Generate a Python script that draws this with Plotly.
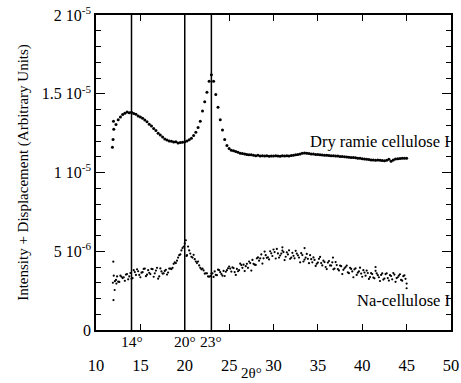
import plotly.graph_objects as go

# ---- data (intensity values in units of 1e-6) ----
dry_x = [11.85, 11.92, 11.97,
         12.0, 12.25, 12.5, 12.75, 13.0, 13.25, 13.5, 13.75, 14.0, 14.25, 14.5, 14.75,
         15.0, 15.25, 15.5, 15.75, 16.0, 16.25, 16.5, 16.75, 17.0, 17.25, 17.5, 17.75,
         18.0, 18.25, 18.5, 18.75, 19.0, 19.25, 19.5, 19.75, 20.0, 20.25, 20.5, 20.75,
         21.0, 21.25, 21.5, 21.75, 22.0, 22.25, 22.5, 22.75, 23.0, 23.25, 23.5, 23.75,
         24.0, 24.25, 24.5, 24.75, 25.0, 25.25, 25.5, 25.75, 26.0, 26.25, 26.5, 26.75,
         27.0, 27.25, 27.5, 27.75, 28.0, 28.25, 28.5, 28.75, 29.0, 29.25, 29.5, 29.75,
         30.0, 30.25, 30.5, 30.75, 31.0, 31.25, 31.5, 31.75, 32.0, 32.25, 32.5, 32.75,
         33.0, 33.25, 33.5, 33.75, 34.0, 34.25, 34.5, 34.75, 35.0, 35.25, 35.5, 35.75,
         36.0, 36.25, 36.5, 36.75, 37.0, 37.25, 37.5, 37.75, 38.0, 38.25, 38.5, 38.75,
         39.0, 39.25, 39.5, 39.75, 40.0, 40.25, 40.5, 40.75, 41.0, 41.25, 41.5, 41.75,
         42.0, 42.25, 42.5, 42.75, 43.0, 43.25, 43.5, 43.75, 44.0, 44.25, 44.5, 44.75, 45.0]
dry_y = [11.60, 12.10, 13.25,
         12.75, 13.05, 13.35, 13.52, 13.68, 13.76, 13.84, 13.80, 13.82, 13.74, 13.70, 13.58,
         13.52, 13.45, 13.33, 13.22, 13.06, 12.95, 12.80, 12.66, 12.50, 12.38, 12.25, 12.12,
         12.07, 12.00, 11.98, 11.93, 11.95, 11.88, 11.90, 11.92, 11.95, 12.00, 12.08, 12.18,
         12.35, 12.55, 12.85, 13.25, 13.90, 14.50, 15.10, 15.80, 16.20, 15.80, 14.95, 14.15,
         13.35, 12.70, 12.10, 11.72, 11.52, 11.42, 11.38, 11.33, 11.28, 11.22, 11.20, 11.17,
         11.15, 11.13, 11.12, 11.10, 11.07, 11.09, 11.05, 11.07, 11.04, 11.06, 11.03, 11.05,
         11.04, 11.06, 11.05, 11.03, 11.06, 11.04, 11.07, 11.05, 11.08, 11.10, 11.12, 11.15,
         11.18, 11.22, 11.24, 11.22, 11.20, 11.18, 11.17, 11.15, 11.14, 11.12, 11.11, 11.10,
         11.09, 11.08, 11.07, 11.06, 11.05, 11.04, 11.02, 11.01, 11.00, 10.98, 10.97, 10.96,
         10.95, 10.93, 10.91, 10.90, 10.88, 10.86, 10.84, 10.83, 10.80, 10.79, 10.78, 10.80,
         10.77, 10.76, 10.75, 10.78, 10.84, 10.72, 10.80, 10.86, 10.88, 10.89, 10.90, 10.91, 10.90]

na_x = [11.9, 11.95, 11.97, 12.1, 12.3, 20.2, 31.0, 33.5, 36.7, 41.5, 45.0,
        12.0, 12.25, 12.5, 12.75, 13.0, 13.25, 13.5, 13.75, 14.0, 14.25, 14.5, 14.75,
        15.0, 15.25, 15.5, 15.75, 16.0, 16.25, 16.5, 16.75, 17.0, 17.25, 17.5, 17.75,
        18.0, 18.25, 18.5, 18.75, 19.0, 19.25, 19.5, 19.75, 20.0, 20.25, 20.5, 20.75,
        21.0, 21.25, 21.5, 21.75, 22.0, 22.25, 22.5, 22.75, 23.0, 23.25, 23.5, 23.75,
        24.0, 24.25, 24.5, 24.75, 25.0, 25.25, 25.5, 25.75, 26.0, 26.25, 26.5, 26.75,
        27.0, 27.25, 27.5, 27.75, 28.0, 28.25, 28.5, 28.75, 29.0, 29.25, 29.5, 29.75,
        30.0, 30.25, 30.5, 30.75, 31.0, 31.25, 31.5, 31.75, 32.0, 32.25, 32.5, 32.75,
        33.0, 33.25, 33.5, 33.75, 34.0, 34.25, 34.5, 34.75, 35.0, 35.25, 35.5, 35.75,
        36.0, 36.25, 36.5, 36.75, 37.0, 37.25, 37.5, 37.75, 38.0, 38.25, 38.5, 38.75,
        39.0, 39.25, 39.5, 39.75, 40.0, 40.25, 40.5, 40.75, 41.0, 41.25, 41.5, 41.75,
        42.0, 42.25, 42.5, 42.75, 43.0, 43.25, 43.5, 43.75, 44.0, 44.25, 44.5, 44.75, 45.0,
        12.125, 12.375, 12.625, 12.875, 13.125, 13.375, 13.625, 13.875, 14.125, 14.375,
        14.625, 14.875, 15.125, 15.375, 15.625, 15.875, 16.125, 16.375, 16.625, 16.875,
        17.125, 17.375, 17.625, 17.875, 18.125, 18.375, 18.625, 18.875, 19.125, 19.375,
        19.625, 19.875, 20.125, 20.375, 20.625, 20.875, 21.125, 21.375, 21.625, 21.875,
        22.125, 22.375, 22.625, 22.875, 23.125, 23.375, 23.625, 23.875, 24.125, 24.375,
        24.625, 24.875, 25.125, 25.375, 25.625, 25.875, 26.125, 26.375, 26.625, 26.875,
        27.125, 27.375, 27.625, 27.875, 28.125, 28.375, 28.625, 28.875, 29.125, 29.375,
        29.625, 29.875, 30.125, 30.375, 30.625, 30.875, 31.125, 31.375, 31.625, 31.875,
        32.125, 32.375, 32.625, 32.875, 33.125, 33.375, 33.625, 33.875, 34.125, 34.375,
        34.625, 34.875, 35.125, 35.375, 35.625, 35.875, 36.125, 36.375, 36.625, 36.875,
        37.125, 37.375, 37.625, 37.875, 38.125, 38.375, 38.625, 38.875, 39.125, 39.375,
        39.625, 39.875, 40.125, 40.375, 40.625, 40.875, 41.125, 41.375, 41.625, 41.875,
        42.125, 42.375, 42.625, 42.875, 43.125, 43.375, 43.625, 43.875, 44.125, 44.375,
        44.625, 44.875]
na_y = [3.00, 4.34, 1.90, 2.54, 2.95, 4.70, 5.25, 5.20, 4.60, 4.00, 2.65,
        3.45, 3.18, 3.07, 3.45, 3.30, 3.12, 3.55, 3.40, 3.25, 3.80, 3.50, 3.73,
        3.35, 3.67, 3.90, 3.51, 3.63, 3.88, 3.38, 3.77, 3.26, 3.91, 3.58, 3.75,
        3.52, 3.90, 3.87, 4.20, 4.25, 4.60, 4.80, 5.20, 5.50, 4.75, 5.05, 4.65,
        4.77, 4.35, 4.35, 3.95, 3.90, 3.58, 3.60, 3.38, 3.58, 3.37, 3.50, 3.83,
        3.67, 3.45, 3.43, 3.80, 4.03, 3.71, 3.93, 3.50, 3.73, 4.21, 3.95, 3.74,
        4.20, 4.35, 3.77, 4.20, 4.13, 4.61, 4.55, 4.22, 4.98, 4.58, 4.48, 4.87,
        5.11, 4.54, 4.86, 4.73, 5.04, 4.44, 4.93, 5.06, 4.59, 4.71, 5.03, 4.74,
        4.30, 4.76, 4.47, 4.83, 4.24, 4.50, 4.61, 4.07, 4.28, 4.64, 4.10, 4.31,
        3.87, 4.38, 4.09, 3.85, 4.31, 3.87, 4.09, 3.55, 3.92, 4.09, 3.61, 3.88,
        3.35, 3.92, 3.64, 3.96, 3.38, 3.65, 3.77, 3.24, 3.61, 3.33, 3.76, 3.48,
        3.11, 3.59, 3.27, 3.60, 3.14, 3.43, 3.62, 3.06, 3.35, 3.54, 3.13, 3.47, 2.95,
        3.10, 3.40, 3.05, 3.38, 3.35, 3.52, 3.22, 3.62, 3.30, 3.68,
        3.85, 3.50, 3.64, 3.88, 3.42, 3.80, 3.55, 3.86, 3.60, 3.95,
        3.40, 3.72, 3.60, 3.82, 3.65, 3.90, 3.95, 4.30, 4.40, 4.75,
        5.05, 5.30, 5.70, 5.30, 4.85, 4.60, 4.50, 4.25, 4.10, 3.85,
        3.78, 3.60, 3.40, 3.42, 3.60, 3.72, 3.48, 3.80, 3.55, 3.75,
        3.70, 3.92, 3.90, 3.98, 3.68, 3.88, 3.80, 4.12, 4.15, 4.05,
        3.95, 4.25, 4.45, 4.15, 4.55, 4.40, 4.80, 4.55, 4.75, 4.62,
        5.00, 4.70, 4.95, 5.15, 4.60, 4.85, 4.95, 4.65, 4.80, 4.52,
        4.90, 4.55, 4.85, 4.60, 4.88, 4.35, 4.60, 4.52, 4.75, 4.30,
        4.45, 4.20, 4.52, 4.25, 4.40, 4.00, 4.28, 4.10, 4.30, 3.90,
        4.12, 3.78, 4.05, 3.82, 4.00, 3.66, 3.95, 3.72, 3.85, 3.50,
        3.72, 3.58, 3.80, 3.45, 3.62, 3.36, 3.55, 3.28, 3.60, 3.35,
        3.50, 3.20, 3.55, 3.30, 3.48, 3.22, 3.52, 3.30, 3.45, 3.18,
        3.42, 3.25]

UNIT = 1e-6
marked_angles = [14, 20, 23]
marked_labels = ["14°", "20°", "23°"]
x_ticks = [10, 15, 20, 25, 30, 35, 40, 45, 50]
y_ticks = [0, 5e-6, 1e-5, 1.5e-5, 2e-5]
y_ticktext = ["0", "5 10<sup>-6</sup>", "1 10<sup>-5</sup>", "1.5 10<sup>-5</sup>", "2 10<sup>-5</sup>"]
series_names = ["Dry ramie cellulose I", "Na-cellulose I"]

FONT = "Liberation Serif, Times New Roman, serif"

fig = go.Figure()
fig.add_trace(go.Scatter(x=dry_x, y=[v * UNIT for v in dry_y], mode="markers",
                         marker=dict(color="black", size=3), showlegend=False))
fig.add_trace(go.Scatter(x=na_x, y=[v * UNIT for v in na_y], mode="markers",
                         marker=dict(color="black", size=2.2), showlegend=False))

for a in marked_angles:
    fig.add_shape(type="line", xref="x", yref="paper", x0=a, x1=a, y0=0, y1=1,
                  line=dict(color="black", width=1.5))
for a, t in zip(marked_angles, marked_labels):
    fig.add_annotation(x=a, y=0, xref="x", yref="paper", text=t, showarrow=False,
                       yanchor="top", yshift=-1, font=dict(size=15.5, color="black", family=FONT))

fig.add_annotation(x=1.004, y=11.94 * UNIT, xref="paper", yref="y", text=series_names[0],
                   showarrow=False, xanchor="right", font=dict(size=16.5, color="black", family=FONT))
fig.add_annotation(x=1.004, y=1.9 * UNIT, xref="paper", yref="y", text=series_names[1],
                   showarrow=False, xanchor="right", font=dict(size=16.5, color="black", family=FONT))

# x axis title placed below the tick labels
fig.add_annotation(x=27.5, y=0, xref="x", yref="paper", text="2θ°", showarrow=False,
                   yanchor="middle", yshift=-43, borderpad=0,
                   font=dict(size=15, color="black", family=FONT))

fig.update_layout(
    width=461, height=383,
    margin=dict(l=96, r=10, t=15, b=53),
    paper_bgcolor="white", plot_bgcolor="white",
    font=dict(family=FONT, size=15, color="black"),
    xaxis=dict(range=[10, 50], tickvals=x_ticks, ticks="inside", ticklen=6, tickwidth=1.2,
               tickcolor="black", showline=True, linecolor="black", linewidth=1.5,
               mirror="ticks", showgrid=False, zeroline=False, ticklabelstandoff=19,
               tickfont=dict(size=16.5), automargin=False),
    yaxis=dict(range=[0, 2e-5], tickvals=y_ticks, ticktext=y_ticktext, ticks="inside",
               ticklen=9, tickwidth=1.2, tickcolor="black", showline=True, linecolor="black",
               linewidth=1.5, mirror="ticks", showgrid=False, zeroline=False,
               tickfont=dict(size=16),
               minor=dict(dtick=1e-6, tick0=0, ticks="inside", ticklen=5, tickcolor="black",
                          tickwidth=1.2, showgrid=False),
               title=dict(text="Intensity + Displacement (Arbitrary Units)", standoff=9,
                          font=dict(size=15)), automargin=False),
)

fig.write_html("out.html")
